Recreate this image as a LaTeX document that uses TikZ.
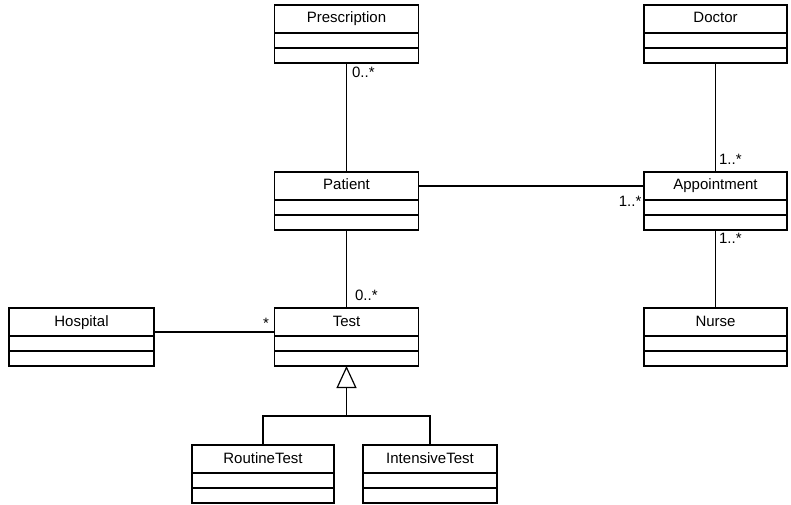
\documentclass[tikz,border=0pt]{standalone}
\usepackage{fontspec}
\setmainfont{Liberation Sans}
\usetikzlibrary{positioning,arrows.meta}

\newcommand{\umlclass}[4]{%
  \node[classname,minimum width=#3] (#1) at (#2) {#4};
  \node[compart,minimum width=#3,below=0pt of #1] (#1-a) {};
  \node[compart,minimum width=#3,below=0pt of #1-a] (#1-b) {};
}

\begin{document}
\begin{tikzpicture}[x=1pt,y=1pt,line width=1.2pt,
  classname/.style={draw,outer sep=0pt,inner sep=0pt,minimum height=28pt,
    text height=11pt,text depth=3pt,font=\fontsize{15}{18}\selectfont},
  compart/.style={draw,outer sep=0pt,inner sep=0pt,minimum height=15pt},
  mult/.style={font=\fontsize{15}{18}\selectfont,inner sep=2pt}]
\useasboundingbox (0,0) rectangle (791,504);

\umlclass{presc}{346.5,485}{144pt}{Prescription}
\umlclass{doctor}{715.5,485}{143pt}{Doctor}
\umlclass{patient}{346.5,318}{144pt}{Patient}
\umlclass{appt}{715.5,318}{143pt}{Appointment}
\umlclass{hospital}{81.5,182}{145pt}{Hospital}
\umlclass{test}{346.5,182}{144pt}{Test}
\umlclass{nurse}{715.5,182}{143pt}{Nurse}
\umlclass{routine}{263,45}{142pt}{RoutineTest}
\umlclass{intensive}{430,45}{134pt}{IntensiveTest}

\draw (presc-b.south) -- (patient.north)
  node[mult,pos=0,anchor=north west,xshift=3pt,yshift=-1pt] {0..*};
\draw (doctor-b.south) -- (appt.north)
  node[mult,pos=1,anchor=south west,xshift=1pt,yshift=5pt] {1..*};
\draw (patient.east) -- (appt.west)
  node[mult,pos=1,anchor=north east,yshift=-8pt] {1..*};
\draw (appt-b.south) -- (nurse.north)
  node[mult,pos=0,anchor=north west,xshift=1pt,yshift=-1pt] {1..*};
\draw (patient-b.south) -- (test.north)
  node[mult,pos=1,anchor=south west,xshift=6pt,yshift=5pt] {0..*};
\draw ([yshift=-10pt]hospital.east) -- ([yshift=-10pt]test.west)
  node[mult,pos=1,anchor=south east,xshift=-3pt,yshift=1pt] {*};

\coordinate (split) at ([yshift=-50pt]test-b.south);
\draw[-{Triangle[open,width=20pt,length=22pt]}] (split) -- (test-b.south);
\draw (routine.north) |- (split) -| (intensive.north);
\end{tikzpicture}
\end{document}
